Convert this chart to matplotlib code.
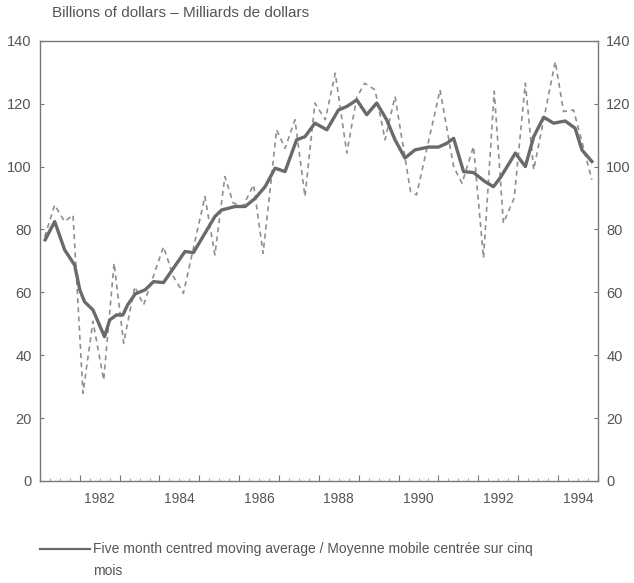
import matplotlib
matplotlib.use("Agg")
import matplotlib.pyplot as plt
from matplotlib.lines import Line2D

plt.rcParams['font.family'] = ['Liberation Sans', 'DejaVu Sans']

# five month centred moving average (solid)
avg_t = [1981.13, 1981.37, 1981.62, 1981.87, 1982.0, 1982.12, 1982.33, 1982.62,
         1982.75, 1982.92, 1983.08, 1983.2, 1983.39, 1983.64, 1983.85, 1984.1,
         1984.64, 1984.85, 1985.39, 1985.56, 1985.9, 1986.15, 1986.4, 1986.65,
         1986.9, 1987.15, 1987.44, 1987.65, 1987.9, 1988.2, 1988.49, 1988.7,
         1988.95, 1989.2, 1989.45, 1989.7, 1989.91, 1990.16, 1990.41, 1990.75,
         1991.0, 1991.21, 1991.38, 1991.63, 1991.88, 1992.17, 1992.38, 1992.57,
         1992.93, 1993.18, 1993.39, 1993.64, 1993.89, 1994.18, 1994.43, 1994.6,
         1994.85]
avg_v = [76.7, 82.5, 73.5, 68.7, 60.8, 57.0, 54.4, 45.9,
         51.2, 52.8, 52.8, 56.0, 59.5, 60.8, 63.4, 63.1,
         73.0, 72.6, 84.1, 86.2, 87.3, 87.3, 89.9, 93.6,
         99.5, 98.4, 108.5, 109.5, 113.8, 111.7, 118.0, 119.1,
         121.2, 116.5, 120.2, 114.9, 108.5, 102.7, 105.3, 106.2,
         106.2, 107.4, 109.0, 98.4, 98.1, 95.2, 93.6, 96.8,
         104.3, 100.0, 109.5, 115.7, 113.8, 114.5, 112.2, 105.3,
         101.6]

# raw series (dashed)
raw_t = [1981.12, 1981.37, 1981.62, 1981.83, 1982.08, 1982.33, 1982.6, 1982.86,
         1983.1, 1983.38, 1983.6, 1984.1, 1984.35, 1984.6, 1985.14, 1985.39,
         1985.64, 1985.85, 1986.1, 1986.36, 1986.6, 1986.94, 1987.15, 1987.4,
         1987.65, 1987.9, 1988.16, 1988.41, 1988.7, 1988.95, 1989.15, 1989.41,
         1989.66, 1989.91, 1990.3, 1990.45, 1991.04, 1991.38, 1991.59, 1991.88,
         1992.13, 1992.4, 1992.63, 1992.9, 1993.18, 1993.39, 1993.93, 1994.14,
         1994.39, 1994.85]
raw_v = [77.7, 87.8, 82.5, 84.6, 27.9, 50.8, 32.1, 69.3,
         43.8, 61.8, 56.0, 74.5, 65.0, 59.7, 90.5, 71.9,
         96.8, 88.4, 87.5, 94.2, 72.4, 111.7, 105.8, 114.9,
         90.5, 120.2, 114.9, 129.7, 104.3, 122.0, 126.5, 124.4,
         108.5, 122.3, 92.0, 91.0, 124.4, 100.0, 94.7, 106.4,
         70.9, 123.9, 82.0, 90.0, 126.5, 99.0, 133.4, 117.5,
         118.0, 95.8]

year_labels = [1982, 1984, 1986, 1988, 1990, 1992, 1994]

grey = '#555555'
fig = plt.figure(figsize=(6.34, 5.83), dpi=100)
ax = fig.add_axes([0.063, 0.175, 0.88, 0.755])

ax.plot(raw_t, raw_v, color='#8f8f8f', lw=1.2, ls=(0, (3, 2.5)))
ax.plot(avg_t, avg_v, color='#6a6a6a', lw=2.4)

ax.set_xlim(1981, 1995)
ax.set_ylim(0, 140)
ax.set_yticks(range(0, 141, 20))
ax.set_xticks(range(1981, 1996))
ax.set_xticks([1981 + q / 4 for q in range(57)], minor=True)
ax.set_xticklabels([])
ax.tick_params(axis='x', which='major', direction='in', length=4, color='#777777')
ax.tick_params(axis='x', which='minor', direction='in', length=2, color='#999999')
ax.tick_params(axis='y', direction='in', length=3, color='#777777', left=True, right=True,
               labelleft=True, labelright=True, labelsize=10.5, labelcolor=grey, pad=6)
for yr in year_labels:
    ax.text(yr + 0.5, -0.025, str(yr), transform=ax.get_xaxis_transform(),
            ha='center', va='top', fontsize=10, color=grey)
for s in ax.spines.values():
    s.set_color('#777777')
    s.set_linewidth(1.0)

fig.text(0.082, 0.977, 'Billions of dollars \u2013 Milliards de dollars',
         ha='left', va='center', fontsize=11, color=grey)

fig.add_artist(Line2D([0.063, 0.142], [0.058, 0.058], color='#6a6a6a', lw=1.6))
fig.text(0.146, 0.058, 'Five month centred moving average / Moyenne mobile centr\u00e9e sur cinq',
         ha='left', va='center', fontsize=10, color=grey)
fig.text(0.146, 0.020, 'mois', ha='left', va='center', fontsize=10, color=grey)

fig.savefig('out.png', dpi=100)
